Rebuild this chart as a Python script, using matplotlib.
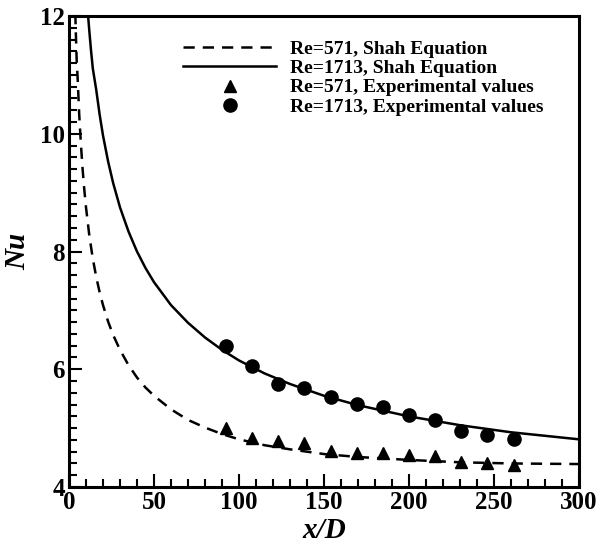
import matplotlib
matplotlib.use("Agg")
import matplotlib.pyplot as plt

# Shah equation curves
x_shah_571 = [3.7, 4, 4.5, 5, 6, 7, 8, 9, 10, 12, 14, 16, 18, 20, 23, 26, 30, 35, 40, 45, 50,
              60, 70, 80, 90, 100, 115, 130, 150, 170, 200, 230, 260, 300]
nu_shah_571 = [12.05, 11.73, 11.26, 10.99, 10.33, 9.82, 9.40, 9.05, 8.75, 8.26, 7.88, 7.57, 7.31,
               7.09, 6.81, 6.58, 6.33, 6.07, 5.86, 5.69, 5.55, 5.32, 5.14, 5.01, 4.90, 4.81, 4.71,
               4.64, 4.56, 4.51, 4.46, 4.42, 4.40, 4.39]
x_shah_1713 = [11, 12, 13, 14, 16, 18, 20, 23, 26, 30, 35, 40, 45, 50, 60, 70, 80, 90, 100,
               115, 130, 150, 170, 200, 230, 260, 300]
nu_shah_1713 = [12.08, 11.73, 11.40, 11.11, 10.75, 10.33, 9.97, 9.53, 9.16, 8.75, 8.34, 8.00,
                7.72, 7.48, 7.09, 6.79, 6.54, 6.33, 6.15, 5.93, 5.75, 5.55, 5.39, 5.20, 5.05,
                4.93, 4.81]

# Experimental values
x_exp = [92.4, 107.8, 123.1, 138.4, 153.9, 169.2, 184.7, 200.0, 215.3, 230.8, 246.1, 261.6]
nu_exp_571 = [5.00, 4.84, 4.78, 4.74, 4.61, 4.58, 4.57, 4.55, 4.53, 4.43, 4.40, 4.38]
nu_exp_1713 = [6.39, 6.05, 5.75, 5.69, 5.53, 5.41, 5.36, 5.23, 5.14, 4.95, 4.89, 4.82]

labels = ["Re=571, Shah Equation", "Re=1713, Shah Equation",
          "Re=571, Experimental values", "Re=1713, Experimental values"]

plt.rcParams['font.family'] = ['Liberation Serif', 'DejaVu Serif']
plt.rcParams['font.weight'] = 'bold'

fig = plt.figure(figsize=(5.98, 5.48), dpi=100)
ax = fig.add_axes([0.1154, 0.1113, 0.8526, 0.8595])

ax.plot(x_shah_571, nu_shah_571, color='black', lw=1.8, dashes=(4.5, 3.2), label=labels[0])
ax.plot(x_shah_1713, nu_shah_1713, color='black', lw=1.8, label=labels[1])
ax.plot(x_exp, nu_exp_571, linestyle='none', marker='^', color='black', markersize=9, label=labels[2])
ax.plot(x_exp, nu_exp_1713, linestyle='none', marker='o', color='black', markersize=9.5, label=labels[3])

ax.set_xlim(0, 300)
ax.set_ylim(4, 12)
ax.set_xticks([0, 50, 100, 150, 200, 250, 300])
ax.set_yticks([4, 6, 8, 10, 12])
ax.set_xticks([v for v in range(0, 301, 10)], minor=True)
ax.set_yticks([4 + 0.2 * i for i in range(41)], minor=True)
ax.tick_params(which='both', direction='in', top=False, right=False, width=1.5)
ax.tick_params(which='major', length=9.5, labelsize=18, pad=3)
ax.tick_params(which='minor', length=5.5)
for lbl in ax.get_xticklabels() + ax.get_yticklabels():
    lbl.set_fontweight('bold')
for sp in ax.spines.values():
    sp.set_linewidth(2.2)

ax.set_xlabel('x/D', fontsize=21, fontstyle='italic', fontweight='bold', labelpad=2)
ax.set_ylabel('Nu', fontsize=21, fontstyle='italic', fontweight='bold', labelpad=6)

leg = ax.legend(loc='upper left', frameon=False, prop={'size': 14, 'weight': 'bold'},
                handlelength=4.8, labelspacing=0.08, handletextpad=0.7,
                bbox_to_anchor=(0.2235, 0.948), borderaxespad=0, borderpad=0)

fig.savefig('out.png', dpi=100)
